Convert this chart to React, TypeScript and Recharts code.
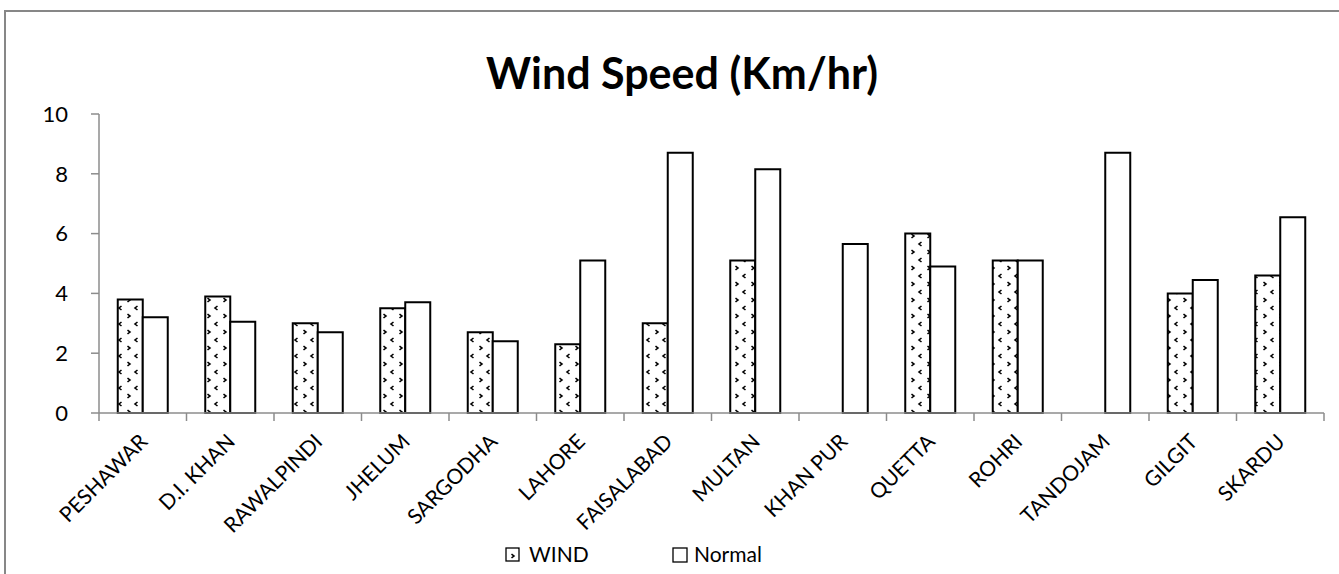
import { BarChart, Bar, XAxis, YAxis } from 'recharts'

const stations = [
  'PESHAWAR',
  'D.I. KHAN',
  'RAWALPINDI',
  'JHELUM',
  'SARGODHA',
  'LAHORE',
  'FAISALABAD',
  'MULTAN',
  'KHAN PUR',
  'QUETTA',
  'ROHRI',
  'TANDOJAM',
  'GILGIT',
  'SKARDU',
]
// null = no reading, no bar drawn
const windSpeed = [3.8, 3.9, 3.0, 3.5, 2.7, 2.3, 3.0, 5.1, null, 6.0, 5.1, null, 4.0, 4.6]
const normalSpeed = [3.2, 3.05, 2.7, 3.7, 2.4, 5.1, 8.7, 8.15, 5.65, 4.9, 5.1, 8.7, 4.45, 6.55]
const yTicks = [0, 2, 4, 6, 8, 10]

const AXIS = '#8c8c8c'
const FONT = 'Lato, "Open Sans", sans-serif'

const data = stations.map((station, i) => ({
  station,
  WIND: windSpeed[i],
  Normal: normalSpeed[i],
}))

function StationTick(props: any) {
  const { x, y, payload } = props
  const half = payload.offset ?? 0
  const idx = payload.index ?? props.index
  const tx = x + 6
  const ty = y + 30
  return (
    <g>
      <line x1={x - half} y1={y} x2={x - half} y2={y + 8} stroke={AXIS} strokeWidth={1.5} />
      {idx === stations.length - 1 && (
        <line x1={x + half} y1={y} x2={x + half} y2={y + 8} stroke={AXIS} strokeWidth={1.5} />
      )}
      <text
        x={tx}
        y={ty}
        transform={`rotate(-45, ${tx}, ${ty})`}
        textAnchor="end"
        fontSize={21}
        fontFamily={FONT}
        fill="#000"
      >
        {payload.value}
      </text>
    </g>
  )
}

export default function App() {
  return (
    <div
      style={{
        position: 'absolute',
        left: 0,
        top: 0,
        width: 1339,
        height: 574,
        overflow: 'hidden',
        background: '#fff',
      }}
    >
      <div
        style={{
          position: 'absolute',
          left: 4,
          top: 10,
          width: 1400,
          height: 700,
          border: '2px solid #878787',
        }}
      />
      <div style={{ position: 'absolute', left: 0, top: 0 }}>
        <BarChart
          width={1339}
          height={574}
          data={data}
          margin={{ top: 114, right: 15, bottom: 0, left: 0 }}
          barCategoryGap={18.75}
          barGap={0}
        >
          <defs>
            <pattern id="windDots" patternUnits="userSpaceOnUse" width="16" height="16">
              <rect width="16" height="16" fill="#fff" />
              <path d="M9.5,2 L7,4 L9.5,6" stroke="#000" strokeWidth="1.6" fill="none" />
              <path d="M-0.5,10 L2,12 L-0.5,14" stroke="#000" strokeWidth="1.6" fill="none" />
              <path d="M15.5,10 L18,12 L15.5,14" stroke="#000" strokeWidth="1.6" fill="none" />
            </pattern>
          </defs>
          <text
            x={682}
            y={89}
            textAnchor="middle"
            fontSize={43}
            fontWeight="bold"
            fontFamily={FONT}
            fill="#000"
          >
            Wind Speed (Km/hr)
          </text>
          <XAxis
            dataKey="station"
            height={161}
            interval={0}
            tickLine={false}
            tickSize={0}
            tickMargin={0}
            tick={<StationTick />}
            axisLine={{ stroke: AXIS, strokeWidth: 1.5 }}
          />
          <YAxis
            domain={[0, 10]}
            ticks={yTicks}
            interval={0}
            width={99}
            tickSize={8}
            tickMargin={23}
            axisLine={{ stroke: AXIS, strokeWidth: 1.5 }}
            tickLine={{ stroke: AXIS, strokeWidth: 1.5 }}
            tick={{ fill: '#000', fontSize: 22, fontFamily: FONT }}
          />
          <Bar dataKey="WIND" fill="url(#windDots)" stroke="#000" strokeWidth={2} isAnimationActive={false} />
          <Bar dataKey="Normal" fill="#fff" stroke="#000" strokeWidth={2} isAnimationActive={false} />
          <g fontFamily={FONT} fontSize={21} fill="#000">
            <rect x={506} y={548} width={13} height={13} fill="url(#windDots)" stroke="#000" strokeWidth={1.3} />
            <text x={529} y={562}>WIND</text>
            <rect x={673} y={548} width={14} height={14} fill="#fff" stroke="#000" strokeWidth={1.3} />
            <text x={694} y={562}>Normal</text>
          </g>
        </BarChart>
      </div>
    </div>
  )
}
